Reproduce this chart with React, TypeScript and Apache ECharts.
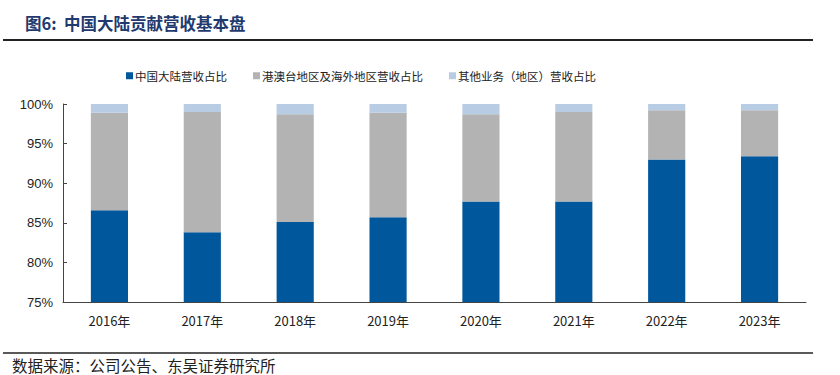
import React, { useEffect, useRef } from "react";
import * as echarts from "echarts";

const categories = ["2016年", "2017年", "2018年", "2019年", "2020年", "2021年", "2022年", "2023年"];
const mainland = [86.6, 83.8, 85.1, 85.7, 87.7, 87.7, 93.0, 93.4];
const overseas = [12.3, 15.2, 13.6, 13.2, 11.0, 11.3, 6.2, 5.8];
const others = [1.1, 1.0, 1.3, 1.1, 1.3, 1.0, 0.8, 0.8];
const seriesNames = ["中国大陆营收占比", "港澳台地区及海外地区营收占比", "其他业务（地区）营收占比"];
const colors = ["#00579b", "#b3b3b3", "#b8cce4"];

const CJK = '"Noto Sans CJK SC", sans-serif';

export default function App() {
  const ref = useRef<HTMLDivElement>(null);
  useEffect(() => {
    if (!ref.current) return;
    const chart = echarts.init(ref.current, undefined, { renderer: "svg" });
    const data = [mainland, overseas, others];
    chart.setOption({
      animation: false,
      backgroundColor: "#fff",
      color: colors,
      legend: {
        top: 65,
        left: 121,
        itemWidth: 7,
        itemHeight: 7,
        itemGap: 26,
        icon: "rect",
        textStyle: { fontFamily: CJK, fontSize: 11.5, color: "#222", padding: [0, 0, 0, -3] },
        data: seriesNames,
      },
      grid: { left: 63, right: 34, top: 104, bottom: 73, containLabel: false },
      xAxis: {
        type: "category",
        data: categories,
        axisLine: { lineStyle: { color: "#444", width: 1 } },
        axisTick: { inside: true, length: 4, lineStyle: { color: "#444" } },
        axisLabel: { fontFamily: CJK, fontSize: 13, color: "#222", margin: 12 },
      },
      yAxis: {
        type: "value",
        min: 75,
        max: 100,
        interval: 5,
        splitLine: { show: false },
        axisLine: { show: true, lineStyle: { color: "#444", width: 1 } },
        axisTick: { show: true, inside: true, length: 4, lineStyle: { color: "#444" } },
        axisLabel: { formatter: "{value}%", fontFamily: "Liberation Sans, Arial", fontSize: 13, color: "#222", margin: 10 },
      },
      series: seriesNames.map((name, i) => ({
        name,
        type: "bar",
        stack: "total",
        barWidth: "40%",
        data: data[i],
        itemStyle: { color: colors[i] },
      })),
      graphic: [
        {
          type: "text",
          left: 25,
          top: 15,
          style: { text: "图6:  中国大陆贡献营收基本盘", fontFamily: CJK, fontSize: 16.5, fontWeight: 600, fill: "#1f3a6e" },
        },
        { type: "line", shape: { x1: 3, y1: 40, x2: 813, y2: 40 }, style: { stroke: "#222", lineWidth: 2 } },
        { type: "line", shape: { x1: 3, y1: 353, x2: 813, y2: 353 }, style: { stroke: "#222", lineWidth: 1.5 } },
        {
          type: "text",
          x: 12,
          y: 365,
          style: {
            text: "数据来源：公司公告、东吴证券研究所",
            fontFamily: CJK,
            fontSize: 15.5,
            fill: "#222",
            verticalAlign: "middle",
            lineHeight: 17,
          },
        },
      ],
    });
    return () => chart.dispose();
  }, []);
  return <div ref={ref} style={{ width: 840, height: 375, position: "absolute", left: 0, top: 0 }} />;
}
